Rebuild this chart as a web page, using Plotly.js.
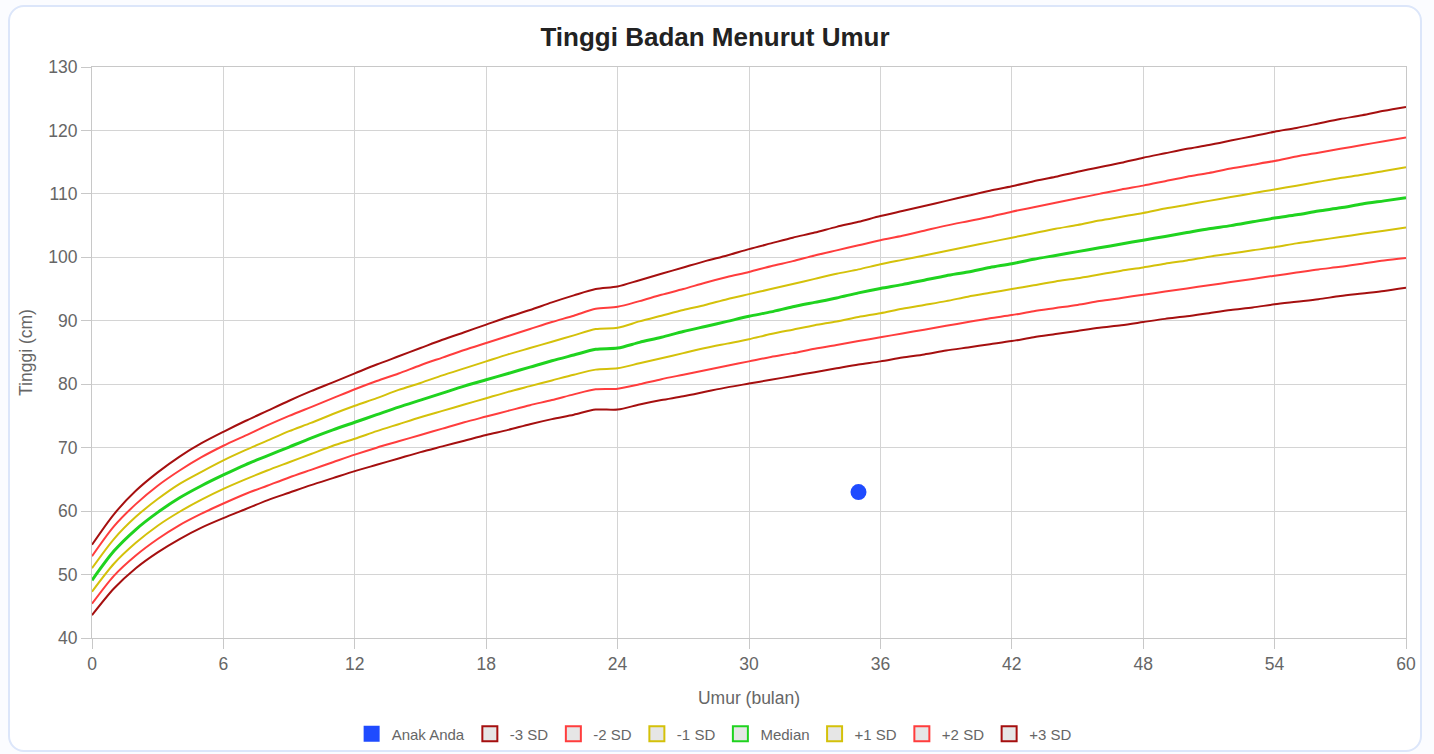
<!DOCTYPE html>
<html>
<head>
<meta charset="utf-8">
<script src="https://cdn.plot.ly/plotly-3.0.1.min.js"></script>
<style>
  html, body { margin: 0; padding: 0; background: #fbfcff; width: 1434px; height: 754px; overflow: hidden; }
  #card { position: absolute; left: 8px; top: 5px; width: 1410px; height: 743px; border: 2px solid #dce6fa; border-radius: 16px; background: #ffffff; }
  #chart { position: absolute; left: 0; top: 0; width: 1434px; height: 754px; }
</style>
</head>
<body>
<div id="card"></div>
<div id="chart"></div>
<script>
// Age in months
const months = Array.from({length: 61}, (_, i) => i);

// Height-for-age reference curves (cm), months 0..60
const sdMinus3 = [43.6,47.8,51.0,53.5,55.6,57.4,58.9,60.3,61.7,62.9,64.1,65.2,66.3,67.3,68.3,69.3,70.2,71.1,72.0,72.8,73.7,74.5,75.2,76.0,
  76.0,76.8,77.5,78.1,78.8,79.5,80.1,80.7,81.3,81.9,82.5,83.1,83.6,84.2,84.7,85.3,85.8,86.3,86.8,87.4,87.9,88.4,88.9,89.3,89.8,90.3,90.7,91.2,91.7,92.1,92.6,93.0,93.4,93.9,94.3,94.7,95.2];
const sdMinus2 = [45.4,49.8,53.0,55.6,57.8,59.6,61.2,62.7,64.0,65.3,66.5,67.7,68.9,70.0,71.0,72.0,73.0,74.0,74.9,75.8,76.7,77.5,78.4,79.2,
  79.3,80.0,80.8,81.5,82.2,82.9,83.6,84.3,84.9,85.6,86.2,86.8,87.4,88.0,88.6,89.2,89.8,90.4,90.9,91.5,92.0,92.5,93.1,93.6,94.1,94.6,95.1,95.6,96.1,96.6,97.1,97.6,98.1,98.5,99.0,99.5,99.9];
const sdMinus1 = [47.3,51.7,55.0,57.7,59.9,61.8,63.5,65.0,66.4,67.7,69.0,70.3,71.4,72.6,73.7,74.8,75.8,76.8,77.8,78.8,79.7,80.6,81.5,82.3,
  82.5,83.3,84.1,84.9,85.7,86.4,87.1,87.9,88.6,89.3,89.9,90.6,91.2,91.9,92.5,93.1,93.8,94.4,95.0,95.6,96.2,96.7,97.3,97.9,98.4,99.0,99.5,100.1,100.6,101.1,101.6,102.2,102.7,103.2,103.7,104.2,104.7];
const median = [49.1,53.7,57.1,59.8,62.1,64.0,65.7,67.3,68.7,70.1,71.5,72.8,74.0,75.2,76.4,77.5,78.6,79.7,80.7,81.7,82.7,83.7,84.6,85.5,
  85.7,86.6,87.4,88.3,89.1,89.9,90.7,91.4,92.2,92.9,93.6,94.4,95.1,95.7,96.4,97.1,97.7,98.4,99.0,99.7,100.3,100.9,101.5,102.1,102.7,103.3,103.9,104.5,105.0,105.6,106.2,106.7,107.3,107.8,108.4,108.9,109.4];
const sdPlus1 = [51.0,55.6,59.1,61.9,64.3,66.2,68.0,69.6,71.1,72.6,73.9,75.3,76.6,77.8,79.1,80.2,81.4,82.5,83.6,84.7,85.7,86.7,87.7,88.7,
  88.9,89.9,90.8,91.7,92.5,93.4,94.2,95.0,95.8,96.6,97.4,98.1,98.9,99.6,100.3,101.0,101.7,102.4,103.1,103.8,104.5,105.1,105.8,106.4,107.0,107.7,108.3,108.9,109.5,110.1,110.7,111.3,111.9,112.5,113.0,113.6,114.2];
const sdPlus2 = [52.9,57.6,61.1,64.0,66.4,68.5,70.3,71.9,73.5,75.0,76.4,77.8,79.2,80.5,81.7,83.0,84.2,85.4,86.5,87.6,88.7,89.8,90.8,91.9,
  92.2,93.1,94.1,95.0,96.0,96.9,97.7,98.6,99.4,100.3,101.1,101.9,102.7,103.4,104.2,105.0,105.7,106.4,107.2,107.9,108.6,109.3,110.0,110.7,111.3,112.0,112.7,113.3,114.0,114.6,115.2,115.9,116.5,117.1,117.7,118.3,118.9];
const sdPlus3 = [54.7,59.5,63.2,66.1,68.6,70.7,72.5,74.2,75.8,77.4,78.9,80.3,81.7,83.1,84.4,85.7,87.0,88.2,89.4,90.6,91.7,92.9,94.0,95.0,
  95.4,96.4,97.4,98.4,99.4,100.3,101.3,102.2,103.1,103.9,104.8,105.6,106.5,107.3,108.1,108.9,109.7,110.5,111.2,112.0,112.7,113.5,114.2,114.9,115.7,116.4,117.1,117.7,118.4,119.1,119.8,120.4,121.1,121.8,122.4,123.1,123.7];

// Child measurement
const childAge = [35];
const childHeight = [63];

// Legend labels
const legendLabels = ['Anak Anda', '-3 SD', '-2 SD', '-1 SD', 'Median', '+1 SD', '+2 SD', '+3 SD'];

const DARKRED = '#a50f0f', RED = '#ff3d3d', YELLOW = '#d4c10a', GREEN = '#1fd31f', BLUE = '#1f4bff';
const FONT = '"Liberation Sans", Arial, Helvetica, sans-serif';

const curves = [
  {y: sdMinus3, color: DARKRED, w: 2},
  {y: sdMinus2, color: RED, w: 2},
  {y: sdMinus1, color: YELLOW, w: 2},
  {y: median, color: GREEN, w: 3},
  {y: sdPlus1, color: YELLOW, w: 2},
  {y: sdPlus2, color: RED, w: 2},
  {y: sdPlus3, color: DARKRED, w: 2}
];

const traces = [];
// legend entries (square boxes)
traces.push({x: [null], y: [null], type: 'scatter', mode: 'markers', name: legendLabels[0],
  marker: {symbol: 'square', size: 16, color: BLUE, line: {width: 0}}, hoverinfo: 'skip'});
curves.forEach((c, i) => {
  traces.push({x: [null], y: [null], type: 'scatter', mode: 'markers', name: legendLabels[i + 1],
    marker: {symbol: 'square', size: 15, color: '#e6e6e6', line: {color: c.color, width: 2}}, hoverinfo: 'skip'});
});
// curves
curves.forEach((c, i) => {
  traces.push({x: months, y: c.y, type: 'scatter', mode: 'lines', showlegend: false, name: legendLabels[i + 1],
    line: {color: c.color, width: c.w, shape: 'spline', smoothing: 0.8, simplify: false}, hoverinfo: 'skip'});
});
// child point
traces.push({x: childAge, y: childHeight, type: 'scatter', mode: 'markers', showlegend: false, name: legendLabels[0],
  marker: {color: BLUE, size: 16, symbol: 'circle'}});

const GRID = '#d4d4d4', AXIS = '#c8c8c8';
const layout = {
  width: 1434, height: 754,
  paper_bgcolor: 'rgba(0,0,0,0)', plot_bgcolor: 'rgba(0,0,0,0)',
  margin: {l: 92, r: 28, t: 67, b: 116},
  font: {family: FONT, color: '#666'},
  title: {text: '<b>Tinggi Badan Menurut Umur</b>', font: {family: FONT, size: 26, color: '#222'},
    x: 0.4986, xanchor: 'center', xref: 'container', y: 0.951, yanchor: 'middle', yref: 'container'},
  xaxis: {range: [0, 60], tickmode: 'linear', tick0: 0, dtick: 6, showgrid: true, gridcolor: GRID, gridwidth: 1,
    showline: true, linecolor: AXIS, linewidth: 1, mirror: true, zeroline: false,
    ticks: 'outside', ticklen: 10, tickcolor: AXIS, tickfont: {size: 17.5, color: '#666'},
    title: {text: 'Umur (bulan)', font: {size: 17.5, color: '#666'}, standoff: 18}},
  yaxis: {range: [40, 130], tickmode: 'linear', tick0: 40, dtick: 10, showgrid: true, gridcolor: GRID, gridwidth: 1,
    showline: true, linecolor: AXIS, linewidth: 1, mirror: true, zeroline: false,
    ticks: 'outside', ticklen: 10, tickcolor: AXIS, tickfont: {size: 17.5, color: '#666'},
    title: {text: 'Tinggi (cm)', font: {size: 17.5, color: '#666'}, standoff: 11}},
  showlegend: true,
  legend: {orientation: 'h', x: 0.498, xanchor: 'center', xref: 'container', y: 0.0265, yanchor: 'middle', yref: 'container',
    font: {size: 15, color: '#666'}, itemwidth: 30, traceorder: 'normal', bgcolor: 'rgba(0,0,0,0)'},
  hovermode: false
};

Plotly.newPlot('chart', traces, layout, {displayModeBar: false, staticPlot: true});
</script>
</body>
</html>
